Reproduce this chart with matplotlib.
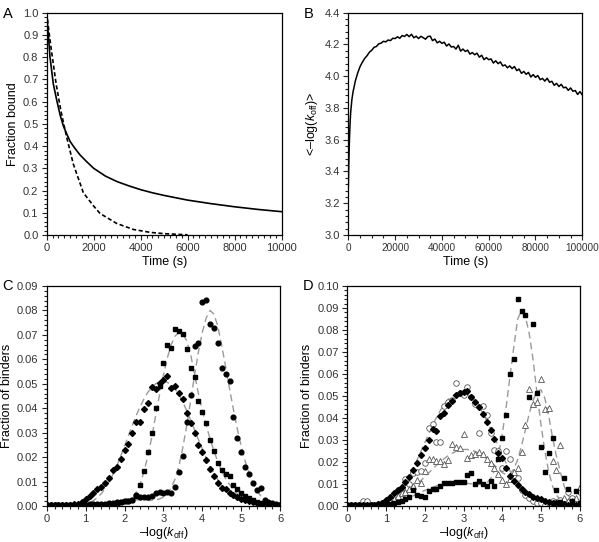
import numpy as np
import matplotlib
matplotlib.use("Agg")
import matplotlib.pyplot as plt
from matplotlib.ticker import MultipleLocator, FormatStrFormatter

plt.rcParams["font.family"] = ["Liberation Sans", "DejaVu Sans"]
plt.rcParams["mathtext.fontset"] = "custom"
plt.rcParams["mathtext.rm"] = "Liberation Sans"
plt.rcParams["mathtext.it"] = "Liberation Sans:italic"

# ---- panel A: fraction bound vs time
a_t_solid = [0, 30, 70, 140, 280, 425, 570, 710, 850, 1000, 1200, 1420, 1700, 2000,
             2500, 3000, 3500, 4000, 4500, 5000, 6000, 7000, 8000, 9000, 10000]
a_solid = [1.0, 0.95, 0.90, 0.80, 0.68, 0.607, 0.54, 0.49, 0.455, 0.42, 0.39, 0.36, 0.33, 0.30,
           0.265, 0.24, 0.221, 0.204, 0.19, 0.178, 0.157, 0.141, 0.127, 0.115, 0.105]
a_t_dash = [0, 100, 200, 400, 600, 850, 1130, 1560, 2000, 2270, 2980, 3690, 4400, 5000, 6000]
a_dash = [1.0, 0.91, 0.83, 0.68, 0.56, 0.44, 0.32, 0.19, 0.13, 0.097, 0.052, 0.025, 0.012, 0.006, 0.001]

# ---- panel B: mean -log(koff) vs time
b_t = [0, 200, 400, 600, 800, 1000, 1500, 2000, 3000, 4000] + list(range(5000, 100001, 1000))
b_val = [3.30, 3.45, 3.56, 3.65, 3.72, 3.77, 3.85, 3.90, 3.97, 4.02,
         4.060, 4.088, 4.112, 4.129, 4.151, 4.163, 4.182, 4.187, 4.204, 4.208,
         4.220, 4.216, 4.228, 4.224, 4.239, 4.237, 4.248, 4.239, 4.256, 4.250,
         4.263, 4.249, 4.264, 4.242, 4.252, 4.237, 4.251, 4.243, 4.233, 4.250,
         4.252, 4.224, 4.234, 4.210, 4.220, 4.207, 4.214, 4.190, 4.203, 4.184,
         4.187, 4.171, 4.195, 4.158, 4.171, 4.156, 4.164, 4.139, 4.149, 4.135,
         4.145, 4.120, 4.132, 4.104, 4.117, 4.104, 4.109, 4.083, 4.097, 4.079,
         4.090, 4.065, 4.071, 4.053, 4.065, 4.048, 4.061, 4.035, 4.045, 4.018,
         4.030, 4.012, 4.024, 3.995, 4.010, 3.993, 4.004, 3.978, 3.986, 3.969,
         3.987, 3.962, 3.968, 3.943, 3.955, 3.935, 3.949, 3.927, 3.931, 3.911,
         3.926, 3.905, 3.910, 3.885, 3.903, 3.882]

# ---- panels C and D: distributions on -log(koff) = 0, 0.1, ... 6.0
logk = np.round(np.arange(0, 6.01, 0.1), 1)

c_diamond = [0.0005, 0.0005, 0.0005, 0.0005, 0.0005, 0.0006, 0.0006, 0.0008, 0.0010, 0.0018,
             0.0029, 0.0040, 0.0052, 0.0068, 0.0079, 0.0093, 0.0113, 0.0147, 0.0161, 0.0191,
             0.0229, 0.0252, 0.0300, 0.0345, 0.0345, 0.0396, 0.0420, 0.0488, 0.0477, 0.0505,
             0.0515, 0.0530, 0.0484, 0.0490, 0.0461, 0.0439, 0.0382, 0.0338, 0.0300, 0.0248,
             0.0221, 0.0188, 0.0150, 0.0123, 0.0095, 0.0075, 0.0068, 0.0055, 0.0045, 0.0038,
             0.0030, 0.0025, 0.0020, 0.0015, 0.0012, 0.0010, 0.0008, 0.0006, 0.0005, 0.0004,
             0.0003]
c_square = [0.0003, 0.0003, 0.0003, 0.0003, 0.0003, 0.0003, 0.0003, 0.0003, 0.0003, 0.0003,
            0.0003, 0.0003, 0.0003, 0.0003, 0.0004, 0.0005, 0.0008, 0.0010, 0.0013, 0.0016,
            0.0020, 0.0022, 0.0025, 0.0040, 0.0085, 0.0145, 0.0220, 0.0298, 0.0402, 0.0490,
            0.0586, 0.0660, 0.0648, 0.0723, 0.0716, 0.0703, 0.0644, 0.0566, 0.0529, 0.0430,
            0.0385, 0.0338, 0.0270, 0.0225, 0.0177, 0.0147, 0.0130, 0.0123, 0.0085, 0.0068,
            0.0055, 0.0042, 0.0032, 0.0025, 0.0018, 0.0012, 0.0009, 0.0007, 0.0005, 0.0004,
            0.0003]
c_circle = [0.0003, 0.0003, 0.0003, 0.0003, 0.0004, 0.0004, 0.0004, 0.0005, 0.0005, 0.0006,
            0.0006, 0.0007, 0.0008, 0.0008, 0.0009, 0.0010, 0.0012, 0.0013, 0.0015, 0.0018,
            0.0020, 0.0022, 0.0025, 0.0045, 0.0038, 0.0035, 0.0038, 0.0042, 0.0052, 0.0058,
            0.0055, 0.0058, 0.0052, 0.0078, 0.0140, 0.0205, 0.0345, 0.0455, 0.0655, 0.0665,
            0.0835, 0.0842, 0.0745, 0.0728, 0.0665, 0.0565, 0.0542, 0.0510, 0.0365, 0.0280,
            0.0220, 0.0160, 0.0130, 0.0095, 0.0065, 0.0072, 0.0025, 0.0018, 0.0012, 0.0008,
            0.0005]
c_fit_left = [0, 0, 0, 0, 0, 0, 0, 0.0001, 0.0002, 0.0004,
              0.0008, 0.0014, 0.0022, 0.0034, 0.0050, 0.0071, 0.0097, 0.0128, 0.0164, 0.0203,
              0.0245, 0.0288, 0.0330, 0.0370, 0.0406, 0.0438, 0.0465, 0.0486, 0.0500, 0.0508,
              0.0510, 0.0506, 0.0496, 0.0478, 0.0455, 0.0425, 0.0390, 0.0352, 0.0312, 0.0272,
              0.0233, 0.0197, 0.0163, 0.0133, 0.0107, 0.0085, 0.0067, 0.0052, 0.0040, 0.0031,
              0.0023, 0.0017, 0.0013, 0.0009, 0.0007, 0.0005, 0.0003, 0.0002, 0.0001, 0.0001,
              0.0]
c_fit_mid = [0, 0, 0, 0, 0, 0, 0, 0, 0, 0,
             0, 0, 0, 0, 0, 0, 0.0001, 0.0001, 0.0002, 0.0005,
             0.0010, 0.0018, 0.0030, 0.0055, 0.0090, 0.0140, 0.0205, 0.0280, 0.0370, 0.0455,
             0.0535, 0.0605, 0.0660, 0.0695, 0.0710, 0.0705, 0.0675, 0.0620, 0.0540, 0.0460,
             0.0390, 0.0330, 0.0275, 0.0225, 0.0180, 0.0143, 0.0112, 0.0088, 0.0067, 0.0050,
             0.0037, 0.0027, 0.0020, 0.0014, 0.0010, 0.0007, 0.0005, 0.0003, 0.0002, 0.0001,
             0.0]
c_fit_right = [0, 0, 0, 0, 0, 0, 0, 0, 0, 0,
               0, 0, 0, 0, 0, 0, 0, 0, 0.0003, 0.0006,
               0.0010, 0.0015, 0.0020, 0.0025, 0.0025, 0.0024, 0.0023, 0.0023, 0.0025, 0.0029,
               0.0036, 0.0050, 0.0075, 0.0110, 0.0165, 0.0240, 0.0330, 0.0430, 0.0535, 0.0630,
               0.0710, 0.0770, 0.0800, 0.0785, 0.0735, 0.0655, 0.0570, 0.0480, 0.0395, 0.0315,
               0.0245, 0.0185, 0.0135, 0.0095, 0.0065, 0.0042, 0.0027, 0.0017, 0.0010, 0.0006,
               0.0003]

d_diamond = [0.0003, 0.0003, 0.0003, 0.0003, 0.0003, 0.0003, 0.0004, 0.0005, 0.0008, 0.0015,
             0.0027, 0.0042, 0.0058, 0.0072, 0.0088, 0.0110, 0.0133, 0.0164, 0.0197, 0.0232,
             0.0262, 0.0300, 0.0348, 0.0342, 0.0410, 0.0421, 0.0459, 0.0479, 0.0505, 0.0515,
             0.0520, 0.0525, 0.0494, 0.0474, 0.0451, 0.0418, 0.0383, 0.0345, 0.0303, 0.0242,
             0.0220, 0.0174, 0.0136, 0.0114, 0.0094, 0.0076, 0.0062, 0.0053, 0.0041, 0.0035,
             0.0030, 0.0024, 0.0020, 0.0015, 0.0012, 0.0010, 0.0008, 0.0006, 0.0005, 0.0004,
             0.0003]
d_circle = [0.0003, 0.0003, 0.0003, 0.0004, 0.0022, 0.0022, 0.0006, 0.0005, 0.0008, 0.0015,
            0.0022, 0.0030, 0.0048, 0.0072, 0.0082, 0.0122, 0.0098, 0.0148, 0.0155, 0.0158,
            0.0195, 0.0353, 0.0373, 0.0292, 0.0290, 0.0455, 0.0475, 0.0480, 0.0558, 0.0515,
            0.0505, 0.0540, 0.0495, 0.0465, 0.0330, 0.0455, 0.0414, 0.0330, 0.0255, 0.0248,
            0.0172, 0.0250, 0.0212, 0.0138, 0.0129, 0.0072, 0.0048, 0.0035, 0.0022, 0.0015,
            0.0012, 0.0006, 0.0012, 0.0022, 0.0018, 0.0028, 0.0022, 0.0062, 0.0038, 0.0022,
            0.0062]
d_triangle = [0.0003, 0.0003, 0.0003, 0.0003, 0.0003, 0.0004, 0.0004, 0.0005, 0.0008, 0.0010,
              0.0012, 0.0020, 0.0030, 0.0045, 0.0058, 0.0065, 0.0076, 0.0090, 0.0120, 0.0105,
              0.0160, 0.0212, 0.0212, 0.0205, 0.0205, 0.0192, 0.0210, 0.0280, 0.0268, 0.0265,
              0.0329, 0.0220, 0.0230, 0.0238, 0.0247, 0.0238, 0.0215, 0.0197, 0.0174, 0.0144,
              0.0117, 0.0098, 0.0125, 0.0155, 0.0172, 0.0247, 0.0368, 0.0530, 0.0465, 0.0475,
              0.0576, 0.0440, 0.0447, 0.0206, 0.0165, 0.0277, 0.0038, 0.0023, 0.0025, 0.0035,
              0.0085]
d_square = [0.0003, 0.0003, 0.0003, 0.0003, 0.0003, 0.0003, 0.0003, 0.0003, 0.0003, 0.0003,
            0.0005, 0.0008, 0.0012, 0.0018, 0.0025, 0.0032, 0.0042, 0.0072, 0.0052, 0.0045,
            0.0042, 0.0068, 0.0076, 0.0078, 0.0092, 0.0103, 0.0105, 0.0105, 0.0108, 0.0110,
            0.0110, 0.0141, 0.0152, 0.0098, 0.0114, 0.0098, 0.0092, 0.0112, 0.0092, 0.0215,
            0.0310, 0.0414, 0.0600, 0.0670, 0.0940, 0.0888, 0.0868, 0.0497, 0.0826, 0.0512,
            0.0267, 0.0156, 0.0240, 0.0308, 0.0073, 0.0018, 0.0126, 0.0076, 0.0022, 0.0068,
            0.0012]
d_fit_diamond = [0, 0, 0, 0, 0, 0, 0, 0.0002, 0.0005, 0.0010,
                 0.0018, 0.0028, 0.0042, 0.0060, 0.0082, 0.0108, 0.0138, 0.0172, 0.0209, 0.0248,
                 0.0288, 0.0328, 0.0366, 0.0402, 0.0434, 0.0461, 0.0483, 0.0499, 0.0510, 0.0515,
                 0.0515, 0.0508, 0.0495, 0.0476, 0.0451, 0.0421, 0.0387, 0.0350, 0.0311, 0.0271,
                 0.0232, 0.0195, 0.0160, 0.0129, 0.0102, 0.0079, 0.0060, 0.0045, 0.0033, 0.0024,
                 0.0017, 0.0012, 0.0008, 0.0005, 0.0003, 0.0002, 0.0001, 0.0001, 0.0001, 0.0001,
                 0.0001]
d_fit_triangle = [0, 0, 0, 0, 0, 0.0001, 0.0002, 0.0003, 0.0005, 0.0008,
                  0.0012, 0.0017, 0.0024, 0.0032, 0.0042, 0.0054, 0.0067, 0.0082, 0.0098, 0.0115,
                  0.0133, 0.0150, 0.0168, 0.0185, 0.0200, 0.0215, 0.0228, 0.0239, 0.0248, 0.0254,
                  0.0257, 0.0257, 0.0254, 0.0248, 0.0240, 0.0229, 0.0216, 0.0201, 0.0185, 0.0168,
                  0.0152, 0.0142, 0.0145, 0.0168, 0.0212, 0.0275, 0.0348, 0.0422, 0.0483, 0.0522,
                  0.0528, 0.0490, 0.0410, 0.0310, 0.0225, 0.0155, 0.0090, 0.0050, 0.0025, 0.0012,
                  0.0005]
d_fit_square = [0, 0, 0, 0, 0, 0, 0, 0, 0, 0,
                0.0005, 0.0008, 0.0012, 0.0017, 0.0023, 0.0030, 0.0038, 0.0046, 0.0055, 0.0063,
                0.0071, 0.0078, 0.0085, 0.0091, 0.0096, 0.0100, 0.0103, 0.0105, 0.0106, 0.0106,
                0.0105, 0.0103, 0.0101, 0.0099, 0.0098, 0.0099, 0.0106, 0.0124, 0.0162, 0.0228,
                0.0326, 0.0448, 0.0590, 0.0725, 0.0850, 0.0890, 0.0860, 0.0780, 0.0660, 0.0510,
                0.0370, 0.0250, 0.0155, 0.0090, 0.0050, 0.0026, 0.0012, 0.0005, 0.0002, 0.0001,
                0.0]

TICK = 8
LABEL = 9
FIT = dict(color="#9a9a9a", lw=1.0, ls=(0, (5, 3)))


def style(ax, xmaj, xmin, ymaj, ymin, yfmt):
    ax.xaxis.set_major_locator(MultipleLocator(xmaj))
    ax.xaxis.set_minor_locator(MultipleLocator(xmin))
    ax.yaxis.set_major_locator(MultipleLocator(ymaj))
    ax.yaxis.set_minor_locator(MultipleLocator(ymin))
    ax.yaxis.set_major_formatter(FormatStrFormatter(yfmt))
    ax.tick_params(which="both", direction="out", top=False, right=False,
                   labelsize=TICK, width=0.8, colors="#222222", labelcolor="#333333")
    ax.tick_params(which="major", length=3.5, pad=2.5)
    ax.tick_params(which="minor", length=2)
    for s in ax.spines.values():
        s.set_linewidth(0.9)


fig = plt.figure(figsize=(5.99, 5.42), dpi=100)

# A
axA = fig.add_axes([0.078, 0.5664, 0.392, 0.4102])
axA.plot(a_t_solid, a_solid, color="black", lw=1.2)
axA.plot(a_t_dash, a_dash, color="black", lw=1.2, ls=(0, (2.5, 1.5)))
axA.set_xlim(0, 10000)
axA.set_ylim(0, 1.0)
style(axA, 2000, 250, 0.1, 0.02, "%.1f")
axA.set_xlabel("Time (s)", fontsize=LABEL, labelpad=2)
axA.set_ylabel("Fraction bound", fontsize=LABEL, labelpad=3)

# B
axB = fig.add_axes([0.5815, 0.5664, 0.3906, 0.4102])
axB.plot(b_t, b_val, color="black", lw=1.1)
axB.set_xlim(0, 100000)
axB.set_ylim(3.0, 4.4)
style(axB, 20000, 5000, 0.2, 0.04, "%.1f")
axB.tick_params(axis="x", labelsize=7.2)
axB.set_xlabel("Time (s)", fontsize=LABEL, labelpad=2)
axB.set_ylabel(r"<–log($k_{\mathrm{off}}$)>", fontsize=LABEL, labelpad=3)

# C
axC = fig.add_axes([0.078, 0.0664, 0.3896, 0.4059])
for fit in (c_fit_left, c_fit_mid, c_fit_right):
    axC.plot(logk, fit, **FIT)
axC.plot(logk, c_diamond, ls="none", marker="D", ms=3.0, color="black")
axC.plot(logk, c_square, ls="none", marker="s", ms=3.2, color="black")
axC.plot(logk, c_circle, ls="none", marker="o", ms=3.4, color="black")
axC.set_xlim(0, 6)
axC.set_ylim(0, 0.09)
style(axC, 1, 0.2, 0.01, 0.002, "%.2f")
axC.set_xlabel(r"–log($k_{\mathrm{off}}$)", fontsize=LABEL, labelpad=0.5)
axC.set_ylabel("Fraction of binders", fontsize=LABEL, labelpad=3)

# D
axD = fig.add_axes([0.5798, 0.0664, 0.388, 0.4059])
for fit in (d_fit_diamond, d_fit_triangle, d_fit_square):
    axD.plot(logk, fit, **FIT)
axD.plot(logk, d_circle, ls="none", marker="o", ms=4.0, mfc="white", mec="#555555", mew=0.6)
axD.plot(logk, d_triangle, ls="none", marker="^", ms=4.2, mfc="white", mec="#555555", mew=0.6)
axD.plot(logk, d_diamond, ls="none", marker="D", ms=3.0, color="black")
axD.plot(logk, d_square, ls="none", marker="s", ms=3.2, color="black")
axD.set_xlim(0, 6)
axD.set_ylim(0, 0.10)
style(axD, 1, 0.2, 0.01, 0.002, "%.2f")
axD.set_xlabel(r"–log($k_{\mathrm{off}}$)", fontsize=LABEL, labelpad=0.5)
axD.set_ylabel("Fraction of binders", fontsize=LABEL, labelpad=3)

for x, y, letter in [(0.005, 0.975, "A"), (0.507, 0.975, "B"),
                     (0.003, 0.472, "C"), (0.505, 0.472, "D")]:
    fig.text(x, y, letter, fontsize=10.5, va="center", ha="left")

fig.savefig("out.png", dpi=100)
